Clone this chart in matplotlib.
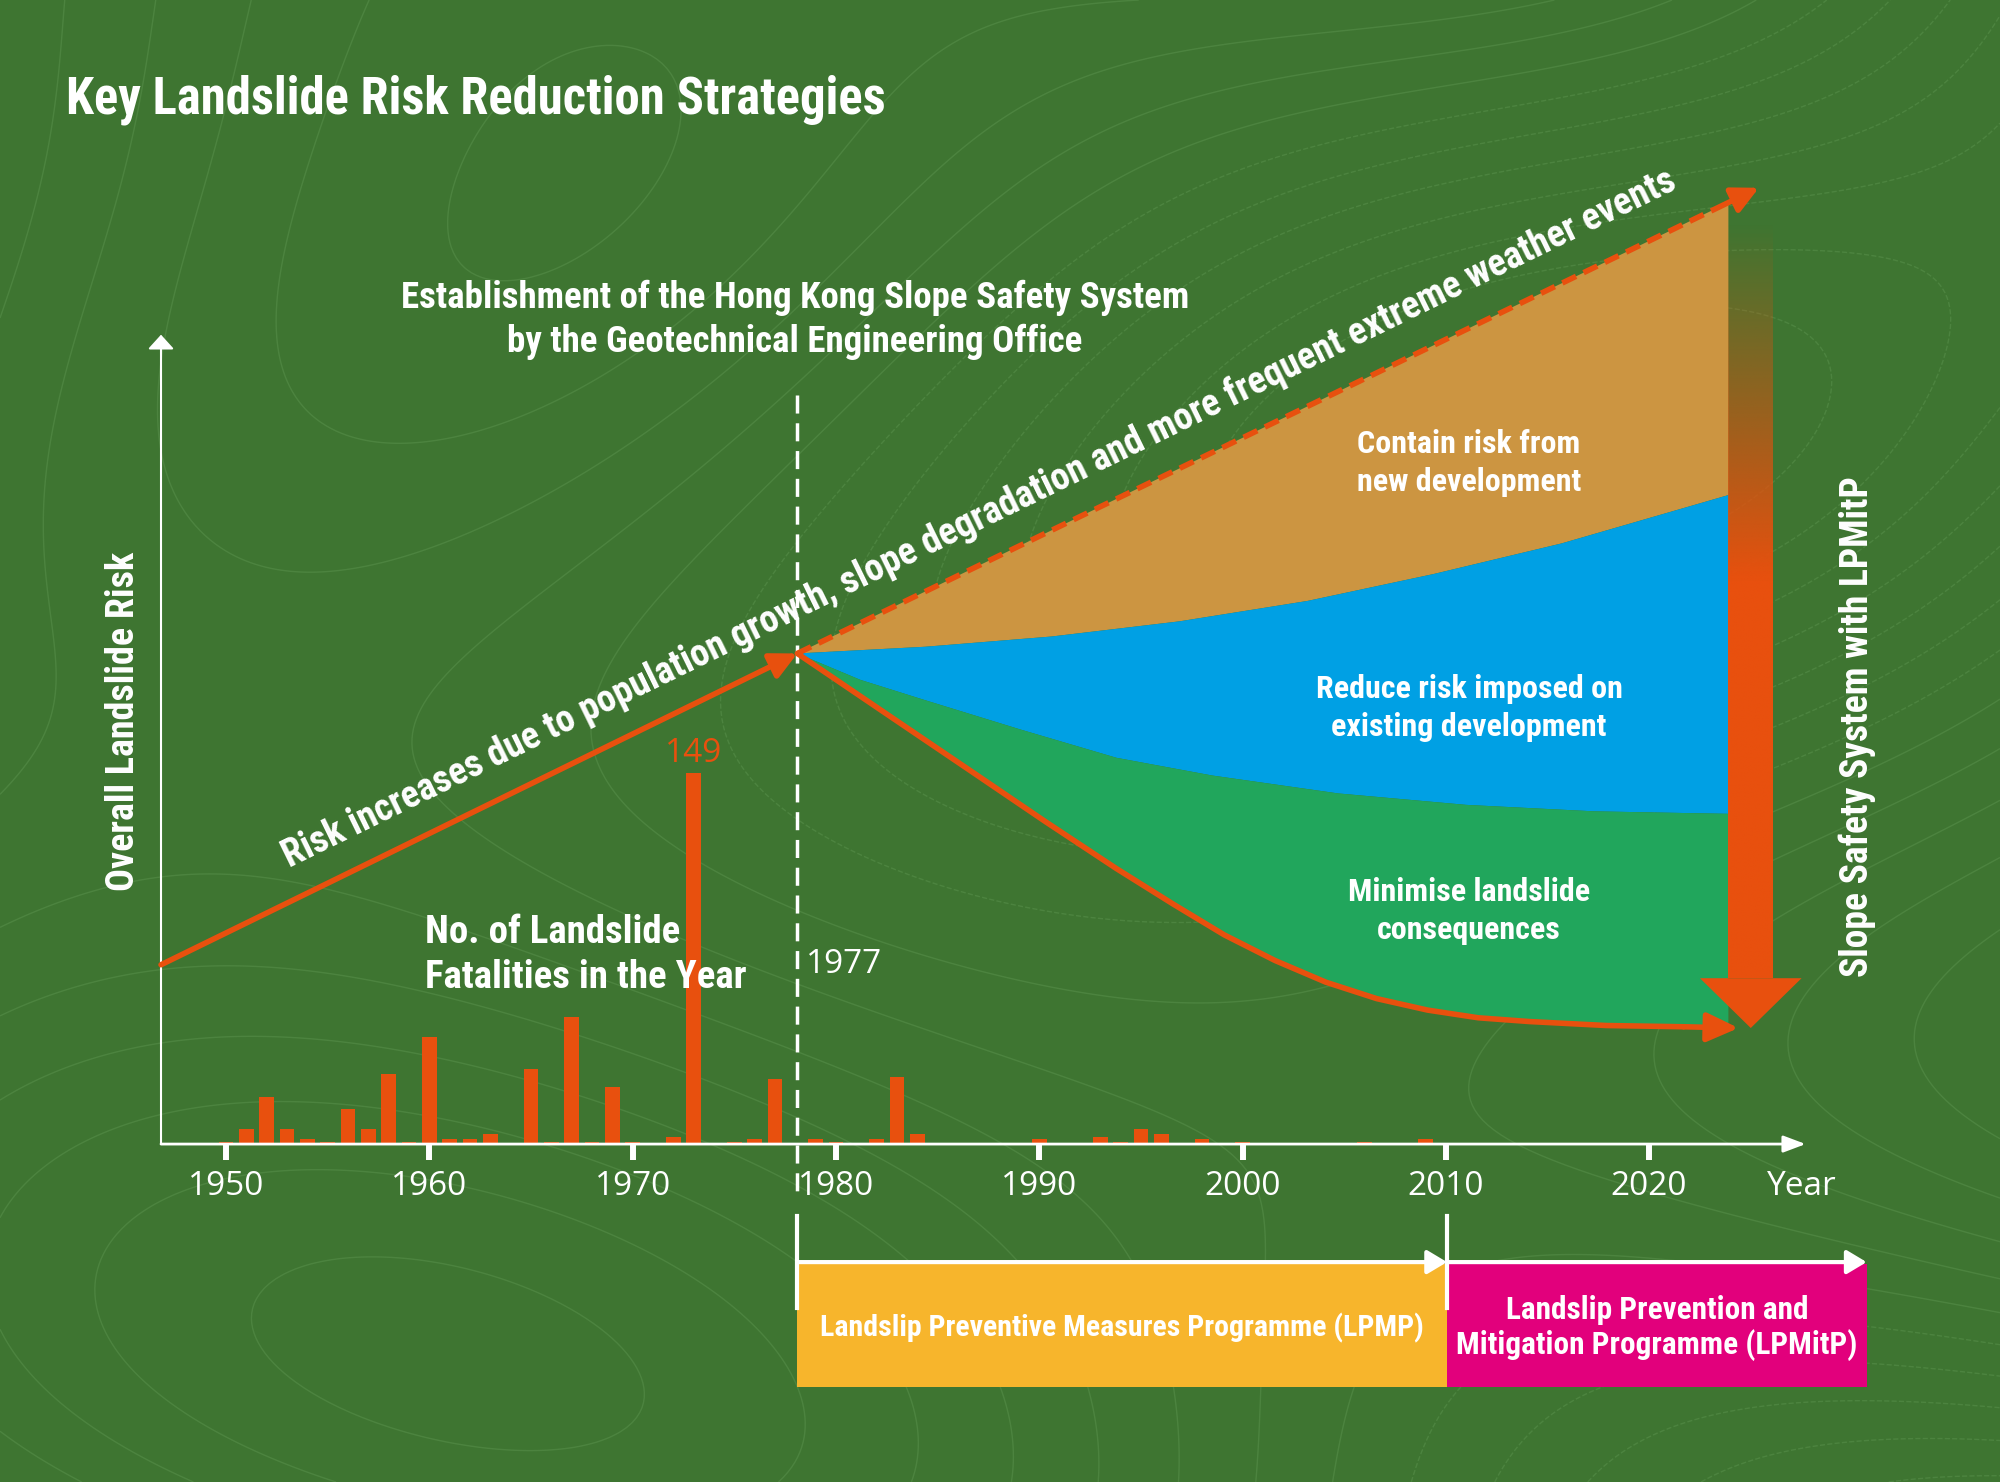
import matplotlib
matplotlib.use("Agg")
import matplotlib.pyplot as plt
import numpy as np
from matplotlib import font_manager
from matplotlib.colors import to_rgb
from matplotlib.patches import Polygon, Rectangle

# --- data -------------------------------------------------------------------
# landslide fatalities, at the positions drawn on the year axis
bar_years = [1950, 1951, 1952, 1953, 1954, 1955, 1956, 1957, 1958, 1959,
             1960, 1961, 1962, 1963, 1965, 1966, 1967, 1968, 1969, 1970,
             1972, 1973, 1975, 1976, 1977, 1979, 1980, 1982, 1983, 1984,
             1990, 1993, 1994, 1995, 1996, 1998, 2000, 2006, 2009]
bar_deaths = [1, 6, 19, 6, 2, 1, 14, 6, 28, 1,
              43, 2, 2, 4, 30, 1, 51, 1, 23, 1,
              3, 149, 1, 2, 26, 2, 1, 2, 27, 4,
              2, 3, 1, 6, 4, 2, 1, 1, 2]
peak_label = "149"

tick_years = [1950, 1960, 1970, 1980, 1990, 2000, 2010, 2020]

# conceptual overall risk (same vertical units as the bars)
trend_years = [1946.8, 1978.1, 2025.4]
trend_risk = [72, 197, 384]

# lower edge of "contain risk from new development"
contain_years = [1978.1, 1984.4, 1990.6, 1996.9, 2003.2, 2009.4, 2015.7, 2023.9]
contain_risk = [197, 199.7, 203.8, 209.9, 218.1, 228.9, 241.2, 260.6]

# lower edge of "reduce risk imposed on existing development"
reduce_years = [1978.1, 1981.2, 1984.4, 1989.1, 1993.8, 1998.5, 2004.7, 2011.0, 2017.3, 2023.9]
reduce_risk = [197, 186.4, 178.2, 166.4, 155.1, 148.0, 140.8, 136.2, 133.6, 132.6]

# residual risk after minimising consequences
residual_years = [1978.1, 1982.8, 1986.6, 1990.3, 1993.8, 1996.6, 1999.1, 2001.6,
                  2004.1, 2006.6, 2009.1, 2011.6, 2014.1, 2017.9, 2021.7, 2024.4]
residual_risk = [197, 171.0, 150.0, 129.5, 110.6, 96.3, 84.0, 73.7,
                 65.0, 58.4, 53.8, 50.7, 49.2, 47.6, 47.1, 46.6]

strategy_end = 2023.9
ssm_x = 1978.1  # 1977 marker, drawn where the source puts it

programme_names = ["Landslip Preventive Measures Programme (LPMP)",
                   "Landslip Prevention and\nMitigation Programme (LPMitP)"]
programme_start = [1978.1, 2010.06]
programme_end = [2010.06, 2030.7]
programme_fontsize = [21.5, 22.5]

# --- style ------------------------------------------------------------------
BG = "#3e7531"
ORANGE = "#e8500e"
TAN = "#cc9541"
BLUE = "#00a0e4"
GREEN = "#21a65c"
YELLOW = "#f7b52c"
MAGENTA = "#e2007c"
WHITE = "white"

plt.rcParams["lines.scale_dashes"] = False


def pick_font(candidates):
    for name in candidates:
        try:
            font_manager.findfont(font_manager.FontProperties(family=name),
                                  fallback_to_default=False)
            return name
        except ValueError:
            continue
    return "DejaVu Sans"


COND = pick_font(["Liberation Sans Narrow", "Roboto Condensed", "Roboto"])
REG = pick_font(["Open Sans", "Noto Sans"])

W, H = 2000, 1482


def fx(x):
    return x / W


def fy(y):
    return 1 - y / H


fig = plt.figure(figsize=(20, 14.82), dpi=100, facecolor=BG)

# faint topographic texture
bg = fig.add_axes([0, 0, 1, 1], zorder=0)
bg.set_axis_off()
gx, gy = np.meshgrid(np.linspace(0, 1, 400), np.linspace(0, 1, 300))
field = (np.sin(5.0 * gx + 1.6 * np.sin(4.0 * gy)) + 0.8 * np.cos(6.0 * gy - 2.0 * gx)
         + 0.4 * np.sin(9.0 * gx * gy))
bg.contour(gx, gy, field, levels=16, colors="#5e9651", linewidths=1.0, alpha=0.45)
bg.set_xlim(0, 1)
bg.set_ylim(0, 1)

ax = fig.add_axes([0, 0, 1, 1], zorder=1)
ax.set_axis_off()
ax.patch.set_alpha(0)
ax.set_xlim(1938.88, 2037.26)
ax.set_ylim(-135.7, 459.4)

# --- risk regions -----------------------------------------------------------
top_at_end = np.interp(strategy_end, trend_years, trend_risk)
tan_x = [ssm_x, strategy_end] + contain_years[::-1]
tan_y = [trend_risk[1], top_at_end] + contain_risk[::-1]
ax.fill(tan_x, tan_y, color=TAN, lw=0, zorder=2)

blue_x = contain_years + reduce_years[::-1]
blue_y = contain_risk + reduce_risk[::-1]
ax.fill(blue_x, blue_y, color=BLUE, lw=0, zorder=2)

res_x = np.array(residual_years)
res_y = np.array(residual_risk)
keep = res_x <= strategy_end
low_x = list(res_x[keep]) + [strategy_end]
low_y = list(res_y[keep]) + [np.interp(strategy_end, res_x, res_y)]
green_x = reduce_years + low_x[::-1]
green_y = reduce_risk + low_y[::-1]
ax.fill(green_x, green_y, color=GREEN, lw=0, zorder=2)

# --- fatality bars ----------------------------------------------------------
ax.bar(bar_years, bar_deaths, width=0.72, color=ORANGE, zorder=3)
peak = int(np.argmax(bar_deaths))
ax.text(bar_years[peak], bar_deaths[peak] + 8, peak_label, color=ORANGE,
        ha="center", va="center", fontsize=24, family=REG)

# --- axes lines -------------------------------------------------------------
x_axis_end = 2027.7
ax.annotate("", xy=(trend_years[0], 325), xytext=(trend_years[0], 0),
            arrowprops=dict(arrowstyle="-|>,head_length=0.55,head_width=0.5",
                            color=WHITE, lw=1.5, shrinkA=0, shrinkB=0,
                            mutation_scale=16), zorder=4)
ax.annotate("", xy=(x_axis_end, 0), xytext=(trend_years[0], 0),
            arrowprops=dict(arrowstyle="-|>,head_length=0.85,head_width=0.32",
                            color=WHITE, lw=2, shrinkA=0, shrinkB=0,
                            mutation_scale=16), zorder=4)
for yr in tick_years:
    ax.plot([yr, yr], [0, -6.4], color=WHITE, lw=4.3, solid_capstyle="butt", zorder=4)
    ax.text(yr, -17, str(yr), color=WHITE, ha="center", va="center",
            fontsize=24, family=REG, zorder=5)
ax.text(2027.5, -17, "Year", color=WHITE, ha="center", va="center",
        fontsize=24, family=REG, zorder=5)

# 1977 marker
ax.plot([ssm_x, ssm_x], [300.8, -20], color=WHITE, lw=2.5, dashes=(13, 7), zorder=4)
ax.text(ssm_x + 0.45, 72, "1977", color=WHITE, ha="left", va="center",
        fontsize=24, family=REG, zorder=5)

# --- risk arrows ------------------------------------------------------------
pivot = (trend_years[1], trend_risk[1])
ax.annotate("", xy=pivot, xytext=(trend_years[0], trend_risk[0]),
            arrowprops=dict(arrowstyle="-|>,head_length=1.0,head_width=0.5",
                            color=ORANGE, lw=4, shrinkA=0, shrinkB=0,
                            mutation_scale=16), zorder=5)

tip = np.array([trend_years[2], trend_risk[2]])
base = np.array(pivot)
head_start = tip - 0.035 * (tip - base)
ax.plot([base[0], head_start[0]], [base[1], head_start[1]], color=ORANGE, lw=4,
        dashes=(11, 6), zorder=5)
ax.annotate("", xy=tip, xytext=head_start,
            arrowprops=dict(arrowstyle="-|>,head_length=1.0,head_width=0.5",
                            color=ORANGE, lw=4, shrinkA=0, shrinkB=0,
                            mutation_scale=16), zorder=5)

ax.plot(residual_years[:-1], residual_risk[:-1], color=ORANGE, lw=4,
        solid_capstyle="round", solid_joinstyle="round", zorder=5)
ax.annotate("", xy=(residual_years[-1], residual_risk[-1]),
            xytext=(residual_years[-2], residual_risk[-2]),
            arrowprops=dict(arrowstyle="-|>,head_length=1.2,head_width=0.55",
                            color=ORANGE, lw=4, shrinkA=0, shrinkB=0,
                            mutation_scale=16), zorder=5)

# big "slope safety system" arrow with fading shaft
arrow_x = strategy_end + 1.1
shaft_half = 1.1
head_half = 2.5
arrow_tip = residual_risk[-1]
head_top = arrow_tip + 20
n = 300
vals = np.linspace(top_at_end, head_top, n)
alpha = np.clip((top_at_end - 8 - vals) / (top_at_end - 235), 0, 1)
grad = np.zeros((n, 1, 4))
grad[..., :3] = to_rgb(ORANGE)
grad[..., 3] = alpha[:, None]
ax.imshow(grad, extent=[arrow_x - shaft_half, arrow_x + shaft_half, head_top, top_at_end],
          aspect="auto", origin="upper", interpolation="bilinear", zorder=6)
ax.add_patch(Polygon([(arrow_x - head_half, head_top), (arrow_x + head_half, head_top),
                      (arrow_x, arrow_tip)], closed=True, color=ORANGE, lw=0, zorder=6))

# --- programme timeline -----------------------------------------------------
box_top, box_bottom = -48.2, -97.6
line_y = -47.4
for start, end, name, col, fs in zip(programme_start, programme_end, programme_names,
                                     [YELLOW, MAGENTA], programme_fontsize):
    ax.add_patch(Rectangle((start, box_bottom), end - start, box_top - box_bottom,
                           color=col, lw=0, zorder=3))
    ax.plot([start, start], [-28.9, -65.9], color=WHITE, lw=3, zorder=5)
    ax.annotate("", xy=(end, line_y), xytext=(start, line_y),
                arrowprops=dict(arrowstyle="-|>,head_length=0.75,head_width=0.45",
                                color=WHITE, lw=3, shrinkA=0, shrinkB=0,
                                mutation_scale=16), zorder=5)
    ax.text((start + end) / 2, (box_top + box_bottom) / 2 - 1, name, color=WHITE,
            ha="center", va="center", fontsize=fs, family=COND, weight="bold",
            linespacing=1.15, zorder=6)

ax.set_xlim(1938.88, 2037.26)
ax.set_ylim(-135.7, 459.4)

# --- text -------------------------------------------------------------------
fig.text(fx(66), fy(100), "Key Landslide Risk Reduction Strategies", color=WHITE,
         fontsize=36.5, family=COND, weight="bold", ha="left", va="center")

for txt, y in [("Establishment of the Hong Kong Slope Safety System", 298),
               ("by the Geotechnical Engineering Office", 342)]:
    fig.text(fx(795), fy(y), txt, color=WHITE, fontsize=26.6, family=COND,
             weight="bold", ha="center", va="center")

fig.text(fx(124), fy(721), "Overall Landslide Risk", color=WHITE, fontsize=27.4,
         family=COND, weight="bold", rotation=90, ha="center", va="center")
fig.text(fx(1857), fy(727), "Slope Safety System with LPMitP", color=WHITE,
         fontsize=27, family=COND, weight="bold", rotation=90, ha="center", va="center")

for txt, y in [("No. of Landslide", 932), ("Fatalities in the Year", 977)]:
    fig.text(fx(425), fy(y), txt, color=WHITE, fontsize=28, family=COND,
             weight="bold", ha="left", va="center")

for lines in [[("Contain risk from", 444), ("new development", 482)],
              [("Reduce risk imposed on", 689), ("existing development", 727)],
              [("Minimise landslide", 892), ("consequences", 930)]]:
    for txt, y in lines:
        fig.text(fx(1469), fy(y), txt, color=WHITE, fontsize=23, family=COND,
                 weight="bold", ha="center", va="center")

p0 = ax.transData.transform((trend_years[0], trend_risk[0]))
p1 = ax.transData.transform(pivot)
angle = np.degrees(np.arctan2(p1[1] - p0[1], p1[0] - p0[0]))
text_year = 1953.3
ax.text(text_year, np.interp(text_year, trend_years, trend_risk) + 10,
        "Risk increases due to population growth, slope degradation and more "
        "frequent extreme weather events", color=WHITE, fontsize=27, family=COND,
        weight="bold", rotation=angle, rotation_mode="anchor", ha="left",
        va="bottom", zorder=7)

fig.savefig("out.png", dpi=100, facecolor=BG)
